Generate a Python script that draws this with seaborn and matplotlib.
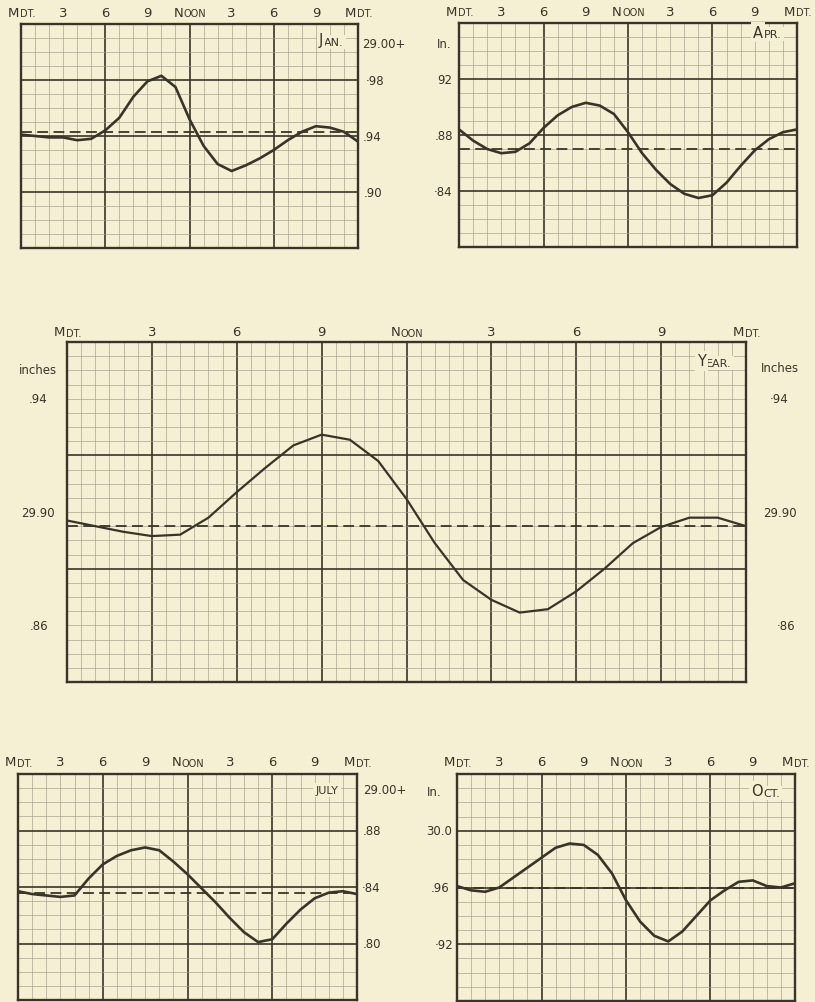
import matplotlib
matplotlib.use("Agg")
import numpy as np
import pandas as pd
import seaborn as sns
import matplotlib.pyplot as plt
from matplotlib.transforms import blended_transform_factory, ScaledTranslation

# ---------------- data (barometer, inches; hourly from midnight to midnight) ----------------
hours = list(range(25))
hour_ticks = [0, 3, 6, 9, 12, 15, 18, 21, 24]
hour_labels = ["Mdt.", "3", "6", "9", "Noon", "3", "6", "9", "Mdt."]

jan = [29.941, 29.940, 29.939, 29.939, 29.937, 29.938, 29.944, 29.953, 29.968, 29.979,
       29.983, 29.975, 29.952, 29.933, 29.920, 29.915, 29.919, 29.924, 29.930, 29.937,
       29.943, 29.947, 29.946, 29.943, 29.936]
apr = [29.884, 29.876, 29.870, 29.867, 29.868, 29.874, 29.885, 29.894, 29.900, 29.903,
       29.901, 29.895, 29.882, 29.867, 29.855, 29.845, 29.838, 29.835, 29.837, 29.846,
       29.858, 29.869, 29.877, 29.882, 29.884]
year = [29.897, 29.895, 29.893, 29.8915, 29.892, 29.898, 29.907, 29.9155, 29.9235, 29.9273,
        29.9255, 29.918, 29.9046, 29.889, 29.876, 29.869, 29.8645, 29.8657, 29.872, 29.880,
        29.889, 29.8947, 29.898, 29.898, 29.895]
july = [29.837, 29.835, 29.834, 29.833, 29.834, 29.846, 29.856, 29.862, 29.866, 29.868,
        29.866, 29.858, 29.849, 29.839, 29.829, 29.818, 29.808, 29.801, 29.803, 29.814,
        29.824, 29.832, 29.836, 29.837, 29.835]
octo = [29.961, 29.958, 29.957, 29.960, 29.967, 29.974, 29.981, 29.988, 29.991, 29.990,
        29.983, 29.970, 29.951, 29.936, 29.926, 29.922, 29.929, 29.940, 29.951, 29.958,
        29.964, 29.965, 29.961, 29.960, 29.963]

means = {"Jan.": 29.943, "Apr.": 29.870, "Year.": 29.895, "July": 29.836, "Oct.": 29.960}

# ---------------- style ----------------
sns.set_theme(style="white")
plt.rcParams["font.family"] = ["DejaVu Sans"]
BG = "#f5efd3"
INK = "#3a3428"
GRID = "#a29c89"

W, H = 815, 1003
fig = plt.figure(figsize=(W / 100, H / 100), dpi=100, facecolor=BG)
renderer = fig.canvas.get_renderer()


def add_axes_px(left, top, right, bottom):
    return fig.add_axes([left / W, 1 - bottom / H, (right - left) / W, (bottom - top) / H])


def smallcaps(x, y, word, transform, size=9.5, ratio=0.74, ha="center", bbox=None):
    """Draw a word in small caps (first letter full size, rest reduced capitals)."""
    kw = dict(color=INK)
    if bbox is not None:
        kw["bbox"] = bbox
    first, rest = word[0], word[1:].upper()
    small = size * ratio
    t1 = fig.text(x, y, first, transform=transform, fontsize=size,
                  ha="left", va="center", **kw)
    t2 = fig.axes[-1].annotate(rest, xy=(1, 0), xycoords=t1,
                               xytext=(0.4, 0.235 * (size - small)),
                               textcoords="offset points", fontsize=small,
                               ha="left", va="bottom", **kw)
    w = t1.get_window_extent(renderer).width + t2.get_window_extent(renderer).width
    dx = {"center": -w / 2, "right": -w, "left": 0}[ha]
    t1.set_transform(transform + ScaledTranslation(dx / fig.dpi, 0, fig.dpi_scale_trans))
    return t1, t2


def panel(box, values, ylim, ymajor, ystep, xmajor, xstep, name, name_px, caps_all=False,
          curve_lw=1.9, label_gap=12):
    ax = add_axes_px(*box)
    ax.set_facecolor(BG)
    df = pd.DataFrame({"hour": hours, "inches": values})
    ax.set_xlim(0, 24)
    ax.set_ylim(*ylim)
    ax.set_xticks(np.arange(0, 24.001, xmajor))
    ax.set_xticks(np.arange(0, 24.001, xstep), minor=True)
    ax.set_yticks(np.arange(ymajor[0], ylim[1] + 1e-6, ymajor[1]))
    ax.set_yticks(np.arange(ylim[0], ylim[1] + 1e-6, ystep), minor=True)
    ax.grid(which="minor", color=GRID, lw=0.6, alpha=0.75)
    ax.grid(which="major", color=INK, lw=1.2)
    ax.tick_params(which="both", length=0, labelbottom=False, labelleft=False)
    for s in ax.spines.values():
        s.set_visible(True)
        s.set_color(INK)
        s.set_linewidth(1.7)
    ax.axhline(means[name], color=INK, lw=1.3, ls=(0, (6, 3)), zorder=3)
    sns.lineplot(data=df, x="hour", y="inches", ax=ax, color=INK, lw=curve_lw, zorder=4,
                 solid_joinstyle="round", solid_capstyle="round")
    ax.set_xlabel("")
    ax.set_ylabel("")
    # hour labels above the frame
    tr = blended_transform_factory(ax.transData, ax.transAxes) + \
        ScaledTranslation(0, label_gap / fig.dpi, fig.dpi_scale_trans)
    for h, lab in zip(hour_ticks, hour_labels):
        if lab[0].isalpha():
            smallcaps(h, 1.0, lab, tr, size=9.5)
        else:
            fig.text(h, 1.0, lab, transform=tr, fontsize=9.5, ha="center", va="center", color=INK)
    # month name in the upper right cell
    box_kw = dict(facecolor=BG, edgecolor="none", pad=1.5)
    if caps_all:
        fig.text(name_px[0] / W, 1 - name_px[1] / H, name.upper(), fontsize=8, ha="center",
                 va="center", color=INK, bbox=box_kw)
    else:
        smallcaps(name_px[0] / W, 1 - name_px[1] / H, name, fig.transFigure, size=10.5,
                  ratio=0.76, bbox=box_kw)
    return ax


def side(ax, xpx, yval, text, ha="center", size=8.5):
    tr = blended_transform_factory(fig.transFigure, ax.transData)
    fig.text(xpx / W, yval, text, transform=tr, fontsize=size, ha=ha, va="center", color=INK)


def side_px(xpx, ypx, text, ha="center", size=8.5):
    fig.text(xpx / W, 1 - ypx / H, text, fontsize=size, ha=ha, va="center", color=INK)


# ---------------- January ----------------
ax1 = panel((21, 25, 358, 249), jan, (29.86, 30.02), (29.86, 0.04), 0.01, 6, 1, "Jan.", (331, 41))
side_px(362, 45, "29.00+", ha="left")
side(ax1, 366, 29.98, "·98", ha="left")
side(ax1, 363, 29.94, ".94", ha="left")
side(ax1, 364, 29.90, ".90", ha="left")

# ---------------- April ----------------
ax2 = panel((459, 24, 797, 248), apr, (29.80, 29.96), (29.80, 0.04), 0.01, 6, 1, "Apr.", (767, 33))
side_px(452, 45, "In.", ha="right")
side(ax2, 452, 29.92, "92", ha="right")
side(ax2, 453, 29.88, ".88", ha="right")
side(ax2, 452, 29.84, "·84", ha="right")

# ---------------- Year ----------------
ax3 = panel((67, 343, 746, 683), year, (29.84, 29.96), (29.84, 0.04), 0.005, 3, 0.5, "Year.", (714, 362),
            curve_lw=1.6, label_gap=10)
side_px(38, 371, "inches")
side(ax3, 38, 29.94, ".94")
side(ax3, 38, 29.90, "29.90")
side(ax3, 39, 29.86, ".86")
side_px(780, 369, "Inches")
side(ax3, 779, 29.94, "·94")
side(ax3, 780, 29.90, "29.90")
side(ax3, 786, 29.86, "·86")

# ---------------- July ----------------
ax4 = panel((18, 775, 357, 1001), july, (29.76, 29.92), (29.76, 0.04), 0.01, 6, 1, "July", (327, 791),
            caps_all=True)
side_px(363, 791, "29.00+", ha="left")
side(ax4, 363, 29.88, ".88", ha="left")
side(ax4, 362, 29.84, "·84", ha="left")
side(ax4, 363, 29.80, ".80", ha="left")

# ---------------- October ----------------
ax5 = panel((457, 775, 795, 1002), octo, (29.88, 30.04), (29.88, 0.04), 0.01, 6, 1, "Oct.", (765, 792))
side_px(442, 792, "In.", ha="right")
side(ax5, 452, 30.00, "30.0", ha="right")
side(ax5, 450, 29.96, ".96", ha="right")
side(ax5, 453, 29.92, "·92", ha="right")

fig.savefig("out.png", dpi=100, facecolor=BG)
